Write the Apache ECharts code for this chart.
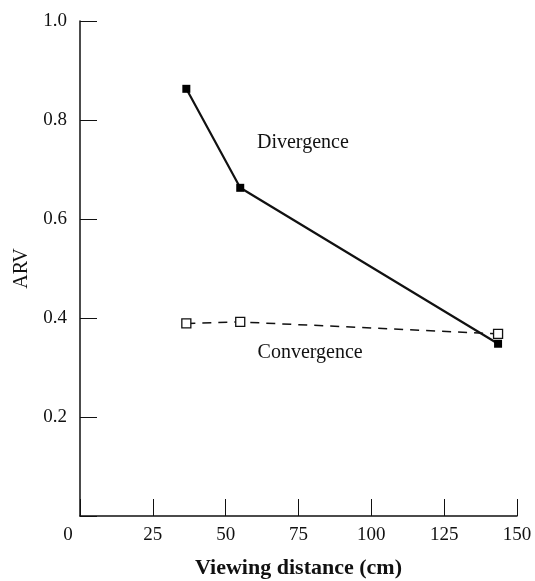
<!DOCTYPE html>
<html>
<head>
<meta charset="utf-8">
<script src="https://cdn.jsdelivr.net/npm/echarts@6/dist/echarts.min.js"></script>
<style>
  html, body { margin: 0; padding: 0; background: #fff; }
  #chart { width: 535px; height: 581px; }
</style>
</head>
<body>
<div id="chart"></div>
<script>
var distances = [36.5, 55, 143.5];
var divergence = [0.863, 0.663, 0.348];
var convergence = [0.389, 0.392, 0.368];
var xTicks = [0, 25, 50, 75, 100, 125, 150];
var yTicks = [0, 0.2, 0.4, 0.6, 0.8, 1.0];
// where the curve names sit, in data units
var divergenceNameAt = [76.5, 0.754];
var convergenceNameAt = [79, 0.329];

var font = 'Liberation Serif';

function pairs(xs, ys) {
    var out = [];
    for (var i = 0; i < xs.length; i++) {
        out.push([xs[i], ys[i]]);
    }
    return out;
}

function nameMark(text, at) {
    return {
        silent: true,
        symbol: 'rect',
        symbolSize: 1,
        itemStyle: { color: 'rgba(0,0,0,0)' },
        label: {
            show: true,
            position: 'inside',
            color: '#111',
            fontFamily: font,
            fontSize: 20,
            formatter: text
        },
        data: [{ coord: at }]
    };
}

var myChart = echarts.init(document.getElementById('chart'));
var option = {
    backgroundColor: '#fff',
    animation: false,
    grid: {
        left: 80,
        right: 18,
        top: 21,
        bottom: 65,
        outerBoundsMode: 'none'
    },
    xAxis: {
        type: 'value',
        min: xTicks[0],
        max: xTicks[xTicks.length - 1],
        interval: 25,
        name: 'Viewing distance (cm)',
        nameLocation: 'middle',
        nameGap: 41,
        nameTextStyle: { color: '#111', fontFamily: font, fontSize: 22, fontWeight: 'bold' },
        axisLine: { lineStyle: { color: '#111', width: 1.5 } },
        axisTick: { inside: true, length: 17, lineStyle: { color: '#111', width: 1 } },
        splitLine: { show: false },
        axisLabel: {
            margin: 10,
            color: '#111',
            fontFamily: font,
            fontSize: 19,
            formatter: function (v) {
                return v === 0 ? '{z|0}' : String(v);
            },
            rich: {
                z: { fontFamily: font, fontSize: 19, color: '#111', padding: [0, 24, 0, 0] }
            }
        }
    },
    yAxis: {
        type: 'value',
        min: yTicks[0],
        max: yTicks[yTicks.length - 1],
        interval: 0.2,
        name: 'ARV',
        nameLocation: 'middle',
        nameGap: 48,
        nameTextStyle: { color: '#111', fontFamily: font, fontSize: 20 },
        axisLine: { show: true, lineStyle: { color: '#111', width: 1.5 } },
        axisTick: { show: true, inside: true, length: 17, lineStyle: { color: '#111', width: 1 } },
        splitLine: { show: false },
        axisLabel: {
            margin: 13,
            color: '#111',
            fontFamily: font,
            fontSize: 19,
            formatter: function (v) {
                return v === 0 ? '' : v.toFixed(1);
            }
        }
    },
    series: [
        {
            name: 'Divergence',
            type: 'line',
            data: pairs(distances, divergence),
            symbol: 'rect',
            symbolSize: 8,
            itemStyle: { color: '#000' },
            lineStyle: { color: '#111', width: 2.2 },
            markPoint: nameMark('Divergence', divergenceNameAt)
        },
        {
            name: 'Convergence',
            type: 'line',
            data: pairs(distances, convergence),
            symbol: 'rect',
            symbolSize: 9,
            itemStyle: { color: '#fff', borderColor: '#111', borderWidth: 1.3 },
            lineStyle: { color: '#111', width: 1.5, type: [9, 7] },
            markPoint: nameMark('Convergence', convergenceNameAt)
        }
    ]
};
option && myChart.setOption(option);
window.onresize = function () {
    myChart.resize();
};
</script>
</body>
</html>
